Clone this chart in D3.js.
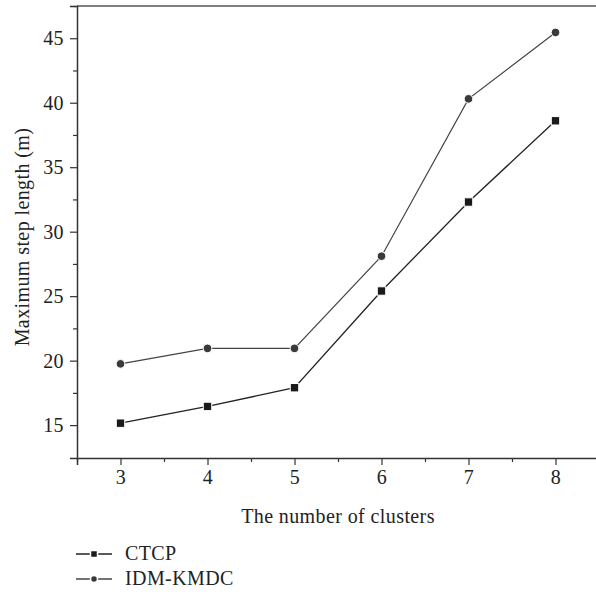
<!DOCTYPE html>
<html>
<head>
<meta charset="utf-8">
<script src="https://cdn.jsdelivr.net/npm/d3@7"></script>
<style>
  body { margin: 0; background: #fff; }
  text { font-family: "Liberation Serif", "DejaVu Serif", serif; fill: #222; letter-spacing: 0.4px; }
</style>
</head>
<body>
<svg id="chart" width="596" height="592"></svg>
<script>
// chart data
var clusters = [3, 4, 5, 6, 7, 8];
var ctcp = [15.15, 16.45, 17.9, 25.4, 32.3, 38.6];
var idmKmdc = [19.75, 20.95, 20.95, 28.1, 40.3, 45.45];
var yTicks = [15, 20, 25, 30, 35, 40, 45];
var seriesNames = ["CTCP", "IDM-KMDC"];

var svg = d3.select("#chart");
var plotLeft = 77, plotTop = 6, plotRight = 599, plotBottom = 458;
var fontSize = "20px";

var x = d3.scaleLinear().domain([2.5, 8.5]).range([plotLeft, plotRight]);
var y = d3.scaleLinear().domain([12.45, 47.5]).range([plotBottom, plotTop]);

// frame top line
svg.append("line")
  .attr("x1", plotLeft).attr("x2", 596)
  .attr("y1", plotTop).attr("y2", plotTop)
  .attr("stroke", "#555").attr("stroke-width", 1.5);

// x axis
svg.append("g")
  .attr("transform", "translate(0," + plotBottom + ")")
  .call(d3.axisBottom(x).tickValues(clusters).tickSize(7).tickPadding(5).tickFormat(d3.format("d")));
svg.append("g")
  .attr("transform", "translate(0," + plotBottom + ")")
  .call(d3.axisBottom(x).tickValues(d3.range(2.5, 8.6, 1)).tickSize(4).tickFormat(""))
  .select(".domain").remove();

// y axis
svg.append("g")
  .attr("transform", "translate(" + plotLeft + ",0)")
  .call(d3.axisLeft(y).tickValues(yTicks).tickSize(7).tickPadding(6));
svg.append("g")
  .attr("transform", "translate(" + plotLeft + ",0)")
  .call(d3.axisLeft(y).tickValues(d3.range(17.5, 47.6, 5)).tickSize(4).tickFormat(""))
  .select(".domain").remove();

svg.selectAll(".domain").attr("stroke", "#333").attr("stroke-width", 1.5);
svg.selectAll(".tick line").attr("stroke", "#333").attr("stroke-width", 1.2);
svg.selectAll(".tick text")
  .style("font-family", "Liberation Serif, DejaVu Serif, serif")
  .style("font-size", fontSize).attr("fill", "#222");

// axis titles
svg.append("text")
  .attr("x", 338).attr("y", 523)
  .attr("text-anchor", "middle")
  .style("font-size", fontSize)
  .text("The number of clusters");

svg.append("text")
  .attr("transform", "translate(29,237) rotate(-90)")
  .attr("text-anchor", "middle")
  .style("font-size", fontSize)
  .text("Maximum step length (m)");

// lines
var line = d3.line()
  .x(function (d, i) { return x(clusters[i]); })
  .y(function (d) { return y(d); });

svg.append("path").datum(idmKmdc)
  .attr("d", line).attr("fill", "none")
  .attr("stroke", "#444").attr("stroke-width", 1.2);
svg.append("path").datum(ctcp)
  .attr("d", line).attr("fill", "none")
  .attr("stroke", "#222").attr("stroke-width", 1.3);

// markers
svg.selectAll(".circ").data(idmKmdc).enter().append("circle")
  .attr("cx", function (d, i) { return x(clusters[i]); })
  .attr("cy", function (d) { return y(d); })
  .attr("r", 4.3)
  .attr("fill", "#3a3a3a").attr("stroke", "#fff").attr("stroke-width", 1);

svg.selectAll(".sq").data(ctcp).enter().append("rect")
  .attr("x", function (d, i) { return x(clusters[i]) - 4.2; })
  .attr("y", function (d) { return y(d) - 4.2; })
  .attr("width", 8.4).attr("height", 8.4)
  .attr("fill", "#1a1a1a").attr("stroke", "#fff").attr("stroke-width", 1);

// legend
var legendY = [554, 579];
seriesNames.forEach(function (name, i) {
  var g = svg.append("g").attr("transform", "translate(0," + legendY[i] + ")");
  g.append("line").attr("x1", 76).attr("x2", 112).attr("y1", 0).attr("y2", 0)
    .attr("stroke", i == 0 ? "#222" : "#444").attr("stroke-width", 1.3);
  if (i == 0) {
    g.append("rect").attr("x", 90.5).attr("y", -3.5).attr("width", 7).attr("height", 7)
      .attr("fill", "#1a1a1a").attr("stroke", "#fff").attr("stroke-width", 1.5);
  } else {
    g.append("circle").attr("cx", 94).attr("cy", 0).attr("r", 3.5)
      .attr("fill", "#3a3a3a").attr("stroke", "#fff").attr("stroke-width", 1.5);
  }
  g.append("text").attr("x", 125).attr("y", 6)
    .style("font-size", fontSize).text(name);
});
</script>
</body>
</html>
